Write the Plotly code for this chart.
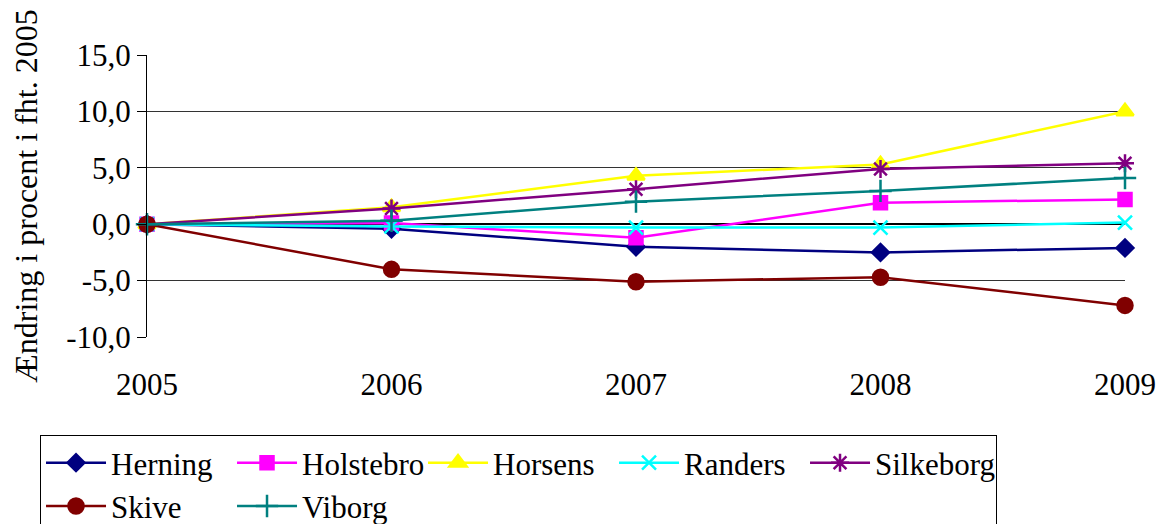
import plotly.graph_objects as go

years = [2005, 2006, 2007, 2008, 2009]
y_ticks = [-10, -5, 0, 5, 10, 15]
y_labels = ["-10,0", "-5,0", "0,0", "5,0", "10,0", "15,0"]

herning = [0.0, -0.4, -2.0, -2.5, -2.1]
holstebro = [0.0, 0.1, -1.2, 1.9, 2.2]
horsens = [0.0, 1.5, 4.3, 5.3, 10.0]
randers = [0.0, -0.2, -0.3, -0.3, 0.15]
silkeborg = [0.0, 1.4, 3.1, 4.9, 5.4]
skive = [0.0, -4.0, -5.1, -4.7, -7.2]
viborg = [0.0, 0.3, 2.0, 2.95, 4.1]

series = [
    ("Herning", herning, "#000080", "diamond", 13),
    ("Holstebro", holstebro, "#FF00FF", "square", 13),
    ("Horsens", horsens, "#FFFF00", "triangle-up", 15),
    ("Randers", randers, "#00FFFF", "x-thin-open", 14),
    ("Silkeborg", silkeborg, "#800080", "asterisk-open", 15),
    ("Skive", skive, "#800000", "circle", 15),
    ("Viborg", viborg, "#008080", "cross-thin-open", 16),
]

fig = go.Figure()
for name, vals, color, sym, size in series:
    fig.add_trace(go.Scatter(
        x=years, y=vals, name=name, mode="lines+markers",
        line=dict(color=color, width=2.5),
        marker=dict(symbol=sym, size=size, color=color,
                    line=dict(color=color, width=2.5)),
        cliponaxis=False,
    ))

serif = "Liberation Serif"

# page body adds 8px offset, so figure is a bit smaller than the window
fig.update_layout(
    width=1160, height=516,
    margin=dict(l=139, r=36, t=47, b=187),
    paper_bgcolor="white", plot_bgcolor="white",
    font=dict(family=serif, size=31, color="black"),
    showlegend=True,
    legend=dict(
        orientation="h", xref="container", yref="container",
        x=0.0276, xanchor="left", y=0.1725, yanchor="top",
        bordercolor="black", borderwidth=1,
        font=dict(family=serif, size=31), itemwidth=60,
        entrywidth=116, entrywidthmode="pixels",
    ),
    xaxis=dict(
        range=[2005, 2009], tickvals=years, ticks="", showgrid=False,
        showline=False, zeroline=False, ticklabelstandoff=26,
    ),
    xaxis2=dict(
        overlaying="x", anchor="free", position=0.4, range=[2005, 2009],
        tickvals=[2005.5, 2006.5, 2007.5, 2008.5], ticks="inside", ticklen=7,
        tickcolor="#555", showticklabels=False, showgrid=False, showline=False,
        zeroline=False,
    ),
    yaxis=dict(
        range=[-10, 15], tickvals=y_ticks, ticktext=y_labels, showgrid=True,
        gridcolor="#333333", gridwidth=1, zeroline=True, zerolinecolor="black",
        zerolinewidth=1.5, showline=True, linecolor="black", linewidth=1,
        ticks="outside", ticklen=9, tickcolor="black",
        title=dict(text="Ændring i procent i fht. 2005",
                   font=dict(family=serif, size=32), standoff=24),
    ),
)

fig.write_html("out.html")
